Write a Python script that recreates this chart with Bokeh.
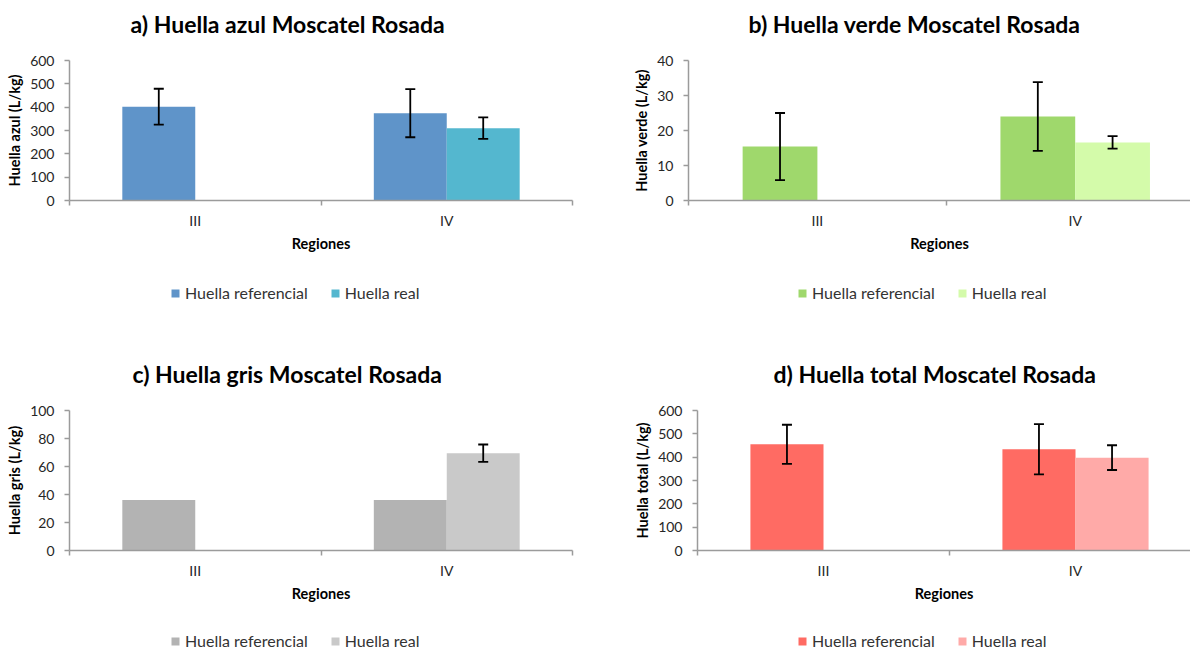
from bokeh.plotting import figure
from bokeh.models import (Range1d, FixedTicker, Whisker, TeeHead, ColumnDataSource,
                          Legend, LegendItem, Title)
from bokeh.layouts import column, row
from bokeh.embed import file_html
from bokeh.resources import INLINE

# ---------------- data ----------------
regions = ["III", "IV"]
series_names = ["Huella referencial", "Huella real"]

azul_ref = [402, 374]
azul_ref_err = [77, 103]
azul_real = [None, 310]
azul_real_err = [None, 46]

verde_ref = [15.4, 24.0]
verde_ref_err = [9.6, 9.8]
verde_real = [None, 16.6]
verde_real_err = [None, 1.8]

gris_ref = [36, 36]
gris_ref_err = [None, None]
gris_real = [None, 69.5]
gris_real_err = [None, 6.2]

total_ref = [455, 434]
total_ref_err = [84, 108]
total_real = [None, 398]
total_real_err = [None, 53]

FONT = "Lato"
BAR_W = 0.29
AXIS_COLOR = "#9b9b9b"


def bar_source(vals, shift):
    xs, tops = [], []
    for i, v in enumerate(vals):
        if v is None:
            continue
        xs.append(i + 0.5 + shift)
        tops.append(v)
    return ColumnDataSource(dict(x=xs, top=tops))


def err_source(vals, errs, shift):
    xs, ups, los = [], [], []
    for i, v in enumerate(vals):
        if v is None or errs[i] is None:
            continue
        xs.append(i + 0.5 + shift)
        ups.append(v + errs[i])
        los.append(v - errs[i])
    return ColumnDataSource(dict(x=xs, upper=ups, lower=los))


def make_panel(title, title_offset, ylabel, ymax, ystep, ref, ref_err, real, real_err,
               ref_color, real_color, width, b_left, b_right, xend, minor):
    p = figure(width=width, height=260,
               x_range=Range1d(0, xend), y_range=Range1d(0, ymax),
               output_backend="svg", toolbar_location=None,
               min_border_left=b_left, min_border_right=b_right,
               min_border_top=60, min_border_bottom=60,
               title=None)
    p.outline_line_color = None
    p.xgrid.visible = False
    p.ygrid.visible = False
    p.background_fill_color = "white"

    # title (with an empty spacer between it and the frame)
    p.add_layout(Title(text=" ", text_font_size="10px", standoff=8), "above")
    p.add_layout(Title(text=title, text_font=FONT, text_font_size="23px",
                       text_font_style="bold", text_color="#000000",
                       align="left", offset=title_offset, standoff=4), "above")

    src_ref = bar_source(ref, -BAR_W / 2)
    src_real = bar_source(real, BAR_W / 2)
    p.vbar(x="x", top="top", width=BAR_W, bottom=0, source=src_ref,
           fill_color=ref_color, line_color=None)
    p.vbar(x="x", top="top", width=BAR_W, bottom=0, source=src_real,
           fill_color=real_color, line_color=None)

    for vals, errs, shift in ((ref, ref_err, -BAR_W / 2), (real, real_err, BAR_W / 2)):
        src = err_source(vals, errs, shift)
        if len(src.data["x"]) == 0:
            continue
        w = Whisker(base="x", upper="upper", lower="lower", source=src,
                    level="overlay",
                    line_color="black", line_width=1.8,
                    upper_head=TeeHead(size=10, line_color="black", line_width=1.8),
                    lower_head=TeeHead(size=10, line_color="black", line_width=1.8))
        p.add_layout(w)

    # x axis
    xa = p.xaxis[0]
    xa.ticker = FixedTicker(ticks=[i + 0.5 for i in range(len(regions))], minor_ticks=minor)
    xa.major_label_overrides = {i + 0.5: r for i, r in enumerate(regions)}
    xa.major_tick_line_color = None
    xa.major_tick_out = 0
    xa.major_tick_in = 0
    xa.minor_tick_line_color = AXIS_COLOR
    xa.minor_tick_line_width = 1.5
    xa.minor_tick_out = 5
    xa.minor_tick_in = 0
    xa.axis_line_color = AXIS_COLOR
    xa.axis_line_width = 1.5
    xa.major_label_text_font = FONT
    xa.major_label_text_font_size = "14px"
    xa.major_label_text_color = "#262626"
    xa.major_label_standoff = 6
    xa.axis_label = "Regiones"
    xa.axis_label_text_font = FONT
    xa.axis_label_text_font_size = "14.5px"
    xa.axis_label_text_font_style = "bold"
    xa.axis_label_text_color = "#000000"
    xa.axis_label_standoff = 3

    # y axis
    ya = p.yaxis[0]
    ya.ticker = FixedTicker(ticks=list(range(0, ymax + 1, ystep)), minor_ticks=[])
    ya.major_tick_line_color = AXIS_COLOR
    ya.major_tick_line_width = 1.5
    ya.major_tick_out = 5
    ya.major_tick_in = 0
    ya.axis_line_color = AXIS_COLOR
    ya.axis_line_width = 1.5
    ya.major_label_text_font = FONT
    ya.major_label_text_font_size = "14px"
    ya.major_label_text_color = "#262626"
    ya.major_label_standoff = 10
    ya.axis_label = ylabel
    ya.axis_label_text_font = FONT
    ya.axis_label_text_font_size = "14.5px"
    ya.axis_label_text_font_style = "bold"
    ya.axis_label_text_color = "#000000"
    ya.axis_label_standoff = 4
    return p, src_ref, src_real


def make_legend(width, height, ref_color, real_color, src_ref, src_real, lx, ly):
    # a strip under the chart that carries only the legend; its two bar renderers
    # share the chart's data but are hidden, so only their legend swatches show
    lf = figure(width=width, height=height, x_range=Range1d(0, 2), y_range=Range1d(-2, -1),
                output_backend="svg", toolbar_location=None,
                x_axis_type=None, y_axis_type=None,
                min_border_left=0, min_border_right=0, min_border_top=0, min_border_bottom=0,
                title=None)
    lf.outline_line_color = None
    lf.xgrid.visible = False
    lf.ygrid.visible = False
    r1 = lf.vbar(x="x", top="top", width=BAR_W, bottom=0, source=src_ref,
                 fill_color=ref_color, line_color=None)
    r2 = lf.vbar(x="x", top="top", width=BAR_W, bottom=0, source=src_real,
                 fill_color=real_color, line_color=None)
    r1.visible = False
    r2.visible = False
    legend = Legend(items=[LegendItem(label=series_names[0], renderers=[r1]),
                           LegendItem(label=series_names[1], renderers=[r2])],
                    orientation="horizontal", location=(lx, ly),
                    glyph_width=10, glyph_height=10, label_standoff=5, spacing=22,
                    padding=0, margin=0, border_line_color=None,
                    background_fill_alpha=0, inactive_fill_alpha=0,
                    label_text_font=FONT, label_text_font_size="16px",
                    label_text_color="#333333")
    lf.add_layout(legend, "center")
    return lf


pa, sa1, sa2 = make_panel("a) Huella azul Moscatel Rosada", 61, "Huella azul (L/kg)", 600, 100,
                          azul_ref, azul_ref_err, azul_real, azul_real_err,
                          "#5F94C9", "#54B7CF", 620, 69, 48, 2, [0, 1, 2])
pb, sb1, sb2 = make_panel("b) Huella verde Moscatel Rosada", 60, "Huella verde (L/kg)", 40, 10,
                          verde_ref, verde_ref_err, verde_real, verde_real_err,
                          "#9FD86C", "#D4FBAA", 570, 68, 0, 502 / 257.8, [0, 1])
pc, sc1, sc2 = make_panel("c) Huella gris Moscatel Rosada", 63, "Huella gris (L/kg)", 100, 20,
                          gris_ref, gris_ref_err, gris_real, gris_real_err,
                          "#B3B3B3", "#C9C9C9", 620, 69, 48, 2, [0, 1, 2])
pd_, sd1, sd2 = make_panel("d) Huella total Moscatel Rosada", 76, "Huella total (L/kg)", 600, 100,
                           total_ref, total_ref_err, total_real, total_real_err,
                           "#FF6B63", "#FFAAA8", 570, 77, 0, 493 / 252.0, [0, 1])

la = make_legend(620, 90, "#5F94C9", "#54B7CF", sa1, sa2, 170, 48)
lb = make_legend(570, 90, "#9FD86C", "#D4FBAA", sb1, sb2, 177, 48)
lc = make_legend(620, 40, "#B3B3B3", "#C9C9C9", sc1, sc2, 170, 0)
ld = make_legend(570, 40, "#FF6B63", "#FFAAA8", sd1, sd2, 177, 0)

layout = column(row(pa, pb), row(la, lb), row(pc, pd_), row(lc, ld))
open("out.html", "w").write(file_html(layout, INLINE))
